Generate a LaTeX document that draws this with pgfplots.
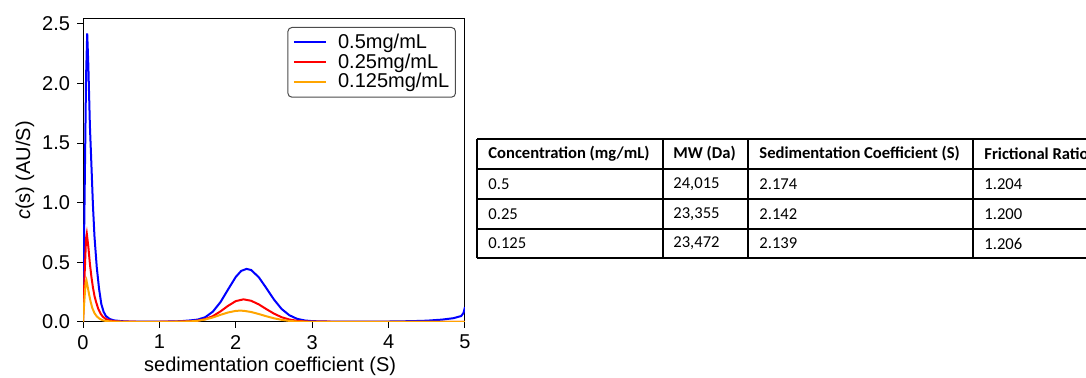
\documentclass[border=0pt]{standalone}
\usepackage{fontspec}
\setmainfont{Liberation Sans}
\newfontfamily\calibri{Carlito}
\usepackage{pgfplots}
\pgfplotsset{compat=1.18}
\definecolor{mplorange}{RGB}{255,165,0}
\begin{document}
\begin{tikzpicture}[x=1pt,y=1pt]
\begin{axis}[
  at={(41.5pt,28pt)}, anchor=south west,
  scale only axis, width=191pt, height=151.5pt,
  xmin=0, xmax=5, ymin=0, ymax=2.54,
  xtick={0,1,2,3,4,5},
  ytick={0,0.5,1,1.5,2,2.5},
  yticklabel style={/pgf/number format/fixed,/pgf/number format/precision=1,/pgf/number format/fixed zerofill},
  /pgf/number format/assume math mode=true,
  tick align=outside, tick pos=left,
  major tick length=3pt,
  axis line style={black, line width=0.5pt},
  every tick/.style={black, line width=0.5pt},
  tick label style={font=\fontsize{10}{11}\selectfont},
  label style={font=\fontsize{10}{11}\selectfont},
  xlabel={sedimentation coefficient (S)},
  ylabel={\textit{c}(s) (AU/S)},
  xlabel style={at={(axis description cs:0.49,-0.163)}, anchor=base},
  ylabel style={at={(axis description cs:-0.152,0.5)}, anchor=center},
  legend cell align=left,
  legend image code/.code={\draw[#1] (0pt,0pt) -- (16pt,0pt);},
  legend style={at={(1,1)}, xshift=-4.5pt, yshift=-4pt, anchor=north east,
    draw=black!70, line width=0.5pt, rounded corners=2pt,
    font=\fontsize{10}{11}\selectfont, inner sep=2.5pt, row sep=0pt,
    nodes={inner sep=0.6pt},
    /tikz/every odd column/.append style={column sep=5pt}},
]
\addplot[blue, line width=1pt] coordinates {
(0,0) (0.02,1.0) (0.04,2.05) (0.055,2.42) (0.07,2.15) (0.09,1.65) (0.11,1.32) (0.13,0.98) (0.15,0.72) (0.18,0.46) (0.21,0.28) (0.24,0.15) (0.27,0.085) (0.3,0.05) (0.35,0.025) (0.4,0.014) (0.5,0.007) (0.6,0.004) (0.8,0.003) (1.0,0.003) (1.2,0.005) (1.3,0.008) (1.4,0.013) (1.5,0.02) (1.6,0.04) (1.7,0.087) (1.8,0.167) (1.9,0.274) (2.0,0.378) (2.07,0.428) (2.14,0.445) (2.2,0.436) (2.3,0.376) (2.4,0.284) (2.5,0.188) (2.6,0.109) (2.7,0.057) (2.8,0.027) (2.9,0.013) (3.0,0.007) (3.2,0.004) (3.5,0.003) (4.0,0.004) (4.3,0.007) (4.5,0.011) (4.7,0.02) (4.85,0.032) (4.95,0.05) (4.98,0.075) (5.0,0.125)
};
\addlegendentry{0.5mg/mL}
\addplot[red, line width=1pt] coordinates {
(0,0) (0.02,0.38) (0.04,0.7) (0.05,0.74) (0.07,0.63) (0.09,0.49) (0.11,0.38) (0.13,0.29) (0.15,0.22) (0.17,0.17) (0.2,0.11) (0.23,0.07) (0.26,0.044) (0.3,0.025) (0.35,0.013) (0.4,0.007) (0.5,0.003) (0.7,0.002) (1.0,0.002) (1.2,0.003) (1.4,0.006) (1.5,0.011) (1.6,0.024) (1.7,0.049) (1.8,0.089) (1.9,0.136) (2.0,0.175) (2.1,0.19) (2.2,0.178) (2.3,0.148) (2.4,0.108) (2.5,0.07) (2.6,0.04) (2.7,0.021) (2.8,0.01) (2.9,0.005) (3.0,0.003) (3.5,0.001) (4.0,0.001) (4.5,0.001) (5.0,0.001)
};
\addlegendentry{0.25mg/mL}
\addplot[mplorange, line width=1pt] coordinates {
(0,0) (0.02,0.2) (0.035,0.33) (0.045,0.35) (0.06,0.3) (0.08,0.23) (0.1,0.17) (0.12,0.12) (0.15,0.075) (0.18,0.047) (0.22,0.026) (0.26,0.014) (0.3,0.008) (0.4,0.003) (0.5,0.002) (1.0,0.001) (1.2,0.002) (1.4,0.005) (1.5,0.01) (1.6,0.021) (1.7,0.038) (1.8,0.06) (1.9,0.08) (2.0,0.093) (2.05,0.095) (2.1,0.094) (2.2,0.084) (2.3,0.067) (2.4,0.048) (2.5,0.031) (2.6,0.018) (2.7,0.009) (2.8,0.004) (2.9,0.002) (3.0,0.001) (4.0,0.001) (5.0,0.001)
};
\addlegendentry{0.125mg/mL}
\end{axis}
\begin{scope}
\clip (0,0) rectangle (543,189);
\draw[line width=0.7pt, black]
  (238.5,119.5) -- (560,119.5)
  (238.5,104.5) -- (560,104.5)
  (238.5,89.5) -- (560,89.5)
  (238.5,74.5) -- (560,74.5)
  (238.5,60) -- (560,60)
  (238.5,119.5) -- (238.5,60)
  (331.5,119.5) -- (331.5,60)
  (374,119.5) -- (374,60)
  (486.5,119.5) -- (486.5,60);
\begin{scope}[every node/.style={anchor=west, inner sep=0pt, font=\calibri\fontsize{8.3}{9}\selectfont}]
\node at (244,112) {\bfseries Concentration (mg/mL)};
\node at (336.5,112) {\bfseries MW (Da)};
\node at (379.5,112) {\bfseries Sedimentation Coefficient (S)};
\node at (492,112) {\bfseries Frictional Ratio};
\node at (244,97) {0.5};
\node at (336.5,97) {24,015};
\node at (379.5,97) {2.174};
\node at (492,97) {1.204};
\node at (244,82) {0.25};
\node at (336.5,82) {23,355};
\node at (379.5,82) {2.142};
\node at (492,82) {1.200};
\node at (244,67.25) {0.125};
\node at (336.5,67.25) {23,472};
\node at (379.5,67.25) {2.139};
\node at (492,67.25) {1.206};
\end{scope}
\end{scope}
\pgfresetboundingbox
\useasboundingbox (0,0) rectangle (543,189);
\end{tikzpicture}
\end{document}
